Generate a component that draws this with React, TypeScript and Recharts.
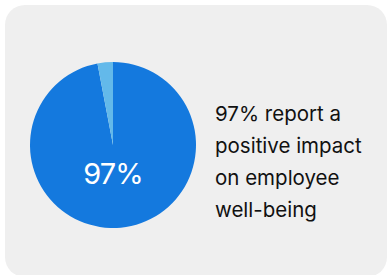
import { PieChart, Pie, Cell, Label } from "recharts";

const segments = ["Positive impact", "Other"];
const shares = [97, 3];
const colors = ["#1479DE", "#63B9EA"];
const captionLines = ["97% report a", "positive impact", "on employee", "well-being"];

const data = segments.map((name, i) => ({ name, value: shares[i] }));

export default function App() {
  return (
    <div
      style={{
        position: "absolute",
        left: 0,
        top: 0,
        width: 388,
        height: 275,
        background: "#fff",
        overflow: "hidden",
        fontFamily: "Inter, sans-serif",
      }}
    >
      <div
        style={{
          position: "absolute",
          left: 5,
          top: 5,
          width: 382,
          height: 272,
          background: "#efefef",
          borderRadius: 20,
        }}
      />
      <div style={{ position: "absolute", left: 0, top: 0 }}>
        <PieChart
          width={226}
          height={290}
          margin={{ top: 0, right: 0, bottom: 0, left: 0 }}
        >
          <Pie
            data={data}
            dataKey="value"
            nameKey="name"
            cx={113}
            cy={145}
            outerRadius={83}
            startAngle={90}
            endAngle={-270}
            stroke="none"
            isAnimationActive={false}
          >
            {data.map((d, i) => (
              <Cell key={d.name} fill={colors[i]} />
            ))}
            <Label
              content={({ viewBox }: any) => (
                <text
                  x={viewBox.cx}
                  y={viewBox.cy + 39}
                  textAnchor="middle"
                  fill="#fff"
                  fontSize={29}
                  letterSpacing={-1}
                  fontFamily="Inter, sans-serif"
                >
                  {shares[0]}%
                </text>
              )}
            />
          </Pie>
        </PieChart>
      </div>
      <div
        style={{
          position: "absolute",
          left: 215,
          top: 98,
          fontSize: 20.5,
          lineHeight: "32px",
          color: "#111",
        }}
      >
        {captionLines.map((l) => (
          <div key={l}>{l}</div>
        ))}
      </div>
    </div>
  );
}
